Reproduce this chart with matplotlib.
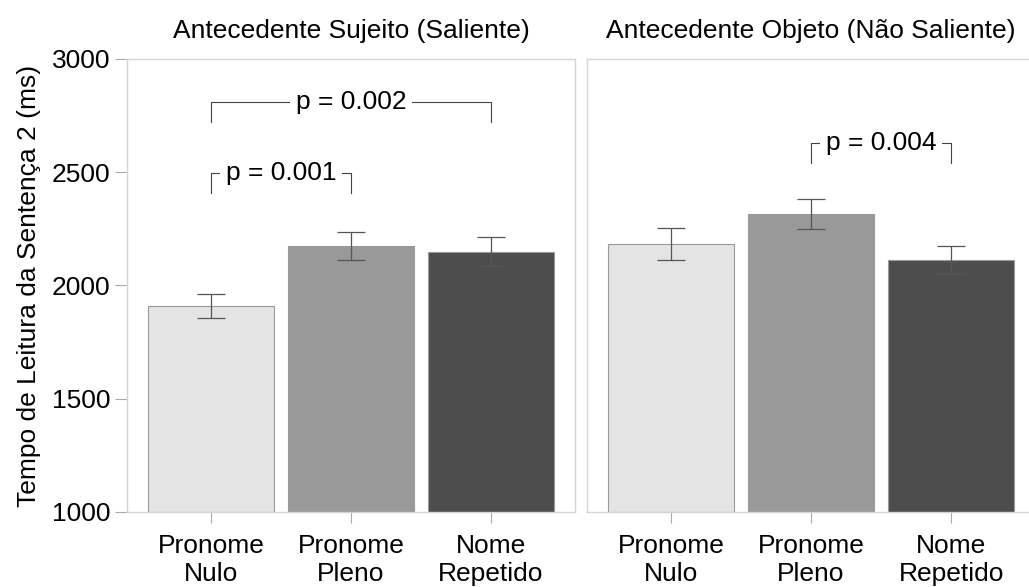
import matplotlib
matplotlib.use("Agg")
import matplotlib.pyplot as plt

plt.rcParams['font.family'] = ['Liberation Sans', 'DejaVu Sans']

conditions = ['Pronome\nNulo', 'Pronome\nPleno', 'Nome\nRepetido']
panels = ['Antecedente Sujeito (Saliente)', 'Antecedente Objeto (Não Saliente)']
means = [
    [1909, 2174, 2150],
    [2184, 2316, 2113],
]
errors = [
    [53, 61, 66],
    [70, 66, 62],
]
# (panel, bar a, bar b, y of bracket, label)
comparisons = [
    (0, 0, 2, 2810, 'p = 0.002'),
    (0, 0, 1, 2497, 'p = 0.001'),
    (1, 1, 2, 2629, 'p = 0.004'),
]
bar_colors = ['#e4e4e4', '#999999', '#4d4d4d']

fig = plt.figure(figsize=(10.29, 5.87), dpi=100)
w, h, b = 0.4354, 0.7717, 0.1278
axes = [fig.add_axes([0.1234, b, w, h]), fig.add_axes([0.5705, b, w, h])]

fs = 19
spine_col = '#d4d4d4'
for i, ax in enumerate(axes):
    x = range(len(conditions))
    ax.bar(x, [m - 1000 for m in means[i]], bottom=1000, width=0.9,
           color=bar_colors, edgecolor='#9a9a9a', linewidth=0.8, zorder=2)
    ax.errorbar(x, means[i], yerr=errors[i], fmt='none', ecolor='#555555',
                elinewidth=0.9, capsize=10, capthick=0.9, zorder=3)
    ax.set_xlim(-0.6, 2.6)
    ax.set_ylim(1000, 3000)
    ax.set_xticks(list(x))
    ax.set_xticklabels(conditions, fontsize=fs, linespacing=1.2)
    ax.set_yticks([1000, 1500, 2000, 2500, 3000])
    ax.set_title(panels[i], fontsize=fs, pad=15)
    for s in ax.spines.values():
        s.set_color(spine_col)
        s.set_linewidth(1.0)
    ax.tick_params(axis='x', length=8, color='#aaaaaa', pad=8)
    ax.tick_params(axis='y', length=9, color='#aaaaaa', labelsize=fs, pad=3)
    if i == 1:
        ax.tick_params(axis='y', left=False, labelleft=False)

axes[0].set_ylabel('Tempo de Leitura da Sentença 2 (ms)', fontsize=fs, labelpad=8)

for p, a, c, y, lab in comparisons:
    ax = axes[p]
    leg = 90
    ax.plot([a, a, c, c], [y - leg, y, y, y - leg], color='#444444', lw=0.8, zorder=4)
    ax.text((a + c) / 2, y, lab, ha='center', va='center', fontsize=fs,
            bbox=dict(fc='white', ec='none', pad=4), zorder=5)

fig.savefig('out.png', dpi=100)
